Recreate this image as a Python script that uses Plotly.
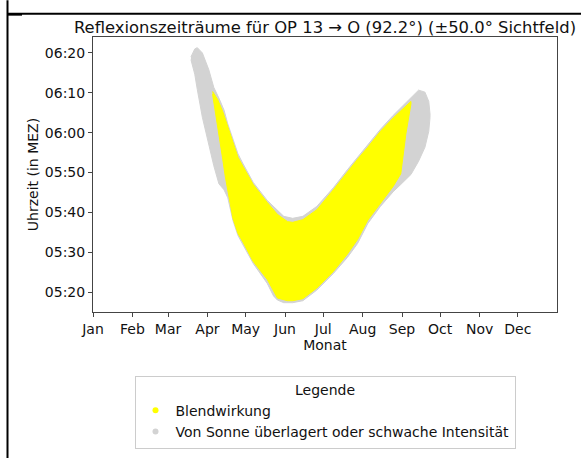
import plotly.graph_objects as go

# Reflexionszeiträume: je Datum früheste / späteste Uhrzeit (MEZ)
gray_dates = ['2023-03-19', '2023-03-22', '2023-03-24', '2023-03-28', '2023-04-02',
              '2023-04-06', '2023-04-10', '2023-04-14', '2023-04-17', '2023-04-21',
              '2023-04-25', '2023-04-29', '2023-05-07', '2023-05-18', '2023-05-23',
              '2023-05-26', '2023-05-31', '2023-06-07', '2023-06-15', '2023-06-26',
              '2023-07-09', '2023-07-20', '2023-07-28', '2023-08-05', '2023-08-15',
              '2023-08-25', '2023-08-31', '2023-09-08', '2023-09-14', '2023-09-19',
              '2023-09-22', '2023-09-23']
gray_hi = ['06:19:00', '06:21:00', '06:21:20', '06:20:00', '06:15:50', '06:11:20',
           '06:08:40', '06:05:40', '06:02:10', '05:58:20', '05:54:40', '05:52:10',
           '05:47:30', '05:43:00', '05:41:30', '05:40:30', '05:39:00', '05:38:30',
           '05:39:00', '05:41:30', '05:46:10', '05:50:40', '05:53:50', '05:57:10',
           '06:00:50', '06:04:20', '06:06:10', '06:08:50', '06:10:40', '06:10:10',
           '06:07:50', '06:04:40']
gray_lo = ['06:18:20', '06:14:40', '06:10:50', '06:03:50', '05:57:10', '05:51:40',
           '05:47:10', '05:45:40', '05:43:40', '05:38:00', '05:34:10', '05:32:00',
           '05:27:10', '05:22:10', '05:19:00', '05:18:00', '05:17:20', '05:17:20',
           '05:17:50', '05:20:30', '05:24:40', '05:28:40', '05:32:10', '05:37:10',
           '05:41:30', '05:45:10', '05:47:00', '05:49:30', '05:52:50', '05:56:20',
           '06:00:20', '06:03:50']

yellow_dates = ['2023-04-05', '2023-04-09', '2023-04-13', '2023-04-15', '2023-04-18',
                '2023-04-21', '2023-04-25', '2023-04-29', '2023-05-07', '2023-05-18',
                '2023-05-26', '2023-06-03', '2023-06-07', '2023-06-15', '2023-06-26',
                '2023-07-09', '2023-07-20', '2023-07-28', '2023-08-05', '2023-08-15',
                '2023-08-25', '2023-08-31', '2023-09-04', '2023-09-08']
yellow_hi = ['06:10:20', '06:08:20', '06:05:20', '06:03:20', '06:00:40', '05:57:40',
             '05:53:50', '05:51:30', '05:47:00', '05:42:30', '05:39:30', '05:37:40',
             '05:37:30', '05:38:10', '05:40:40', '05:45:40', '05:50:10', '05:53:20',
             '05:56:20', '06:00:20', '06:03:40', '06:05:20', '06:06:40', '06:07:50']
yellow_lo = ['06:09:40', '06:01:20', '05:53:20', '05:49:00', '05:43:30', '05:38:30',
             '05:34:40', '05:32:30', '05:27:40', '05:23:10', '05:18:30', '05:17:50',
             '05:17:50', '05:18:20', '05:21:00', '05:25:10', '05:29:30', '05:33:10',
             '05:38:00', '05:42:10', '05:46:30', '05:49:40', '05:59:40', '06:07:10']

month_ticks = ['2023-%02d-01' % m for m in range(1, 13)]
month_labels = ['Jan', 'Feb', 'Mar', 'Apr', 'May', 'Jun',
                'Jul', 'Aug', 'Sep', 'Oct', 'Nov', 'Dec']
time_ticks = ['05:20', '05:30', '05:40', '05:50', '06:00', '06:10', '06:20']

DAY = '1970-01-01 '
FONT = 'DejaVu Sans'
YELLOW = '#ffff00'
GRAY = '#d3d3d3'


def band(dates, hi, lo, color):
    xs = dates + dates[::-1]
    ys = [DAY + t for t in hi] + [DAY + t for t in lo[::-1]]
    return go.Scatter(x=xs, y=ys, mode='lines', fill='toself', fillcolor=color,
                      line=dict(color=color, width=1), showlegend=False,
                      hoverinfo='skip')


fig = go.Figure()
fig.add_trace(band(gray_dates, gray_hi, gray_lo, GRAY))
fig.add_trace(band(yellow_dates, yellow_hi, yellow_lo, YELLOW))
fig.add_trace(go.Scatter(x=[None], y=[None], mode='markers', name='Blendwirkung',
                         marker=dict(color=YELLOW, size=6)))
fig.add_trace(go.Scatter(x=[None], y=[None], mode='markers',
                         name='Von Sonne überlagert oder schwache Intensität',
                         marker=dict(color=GRAY, size=6)))

# plot area in pixels
L, R, T, B = 93, 24, 37, 147
W, H = 581 - L - R, 461 - T - B


def px(x):
    return (x - L) / W


def py(y):
    return (T + H - y) / H


axis_common = dict(showline=True, linecolor='#444', linewidth=1, mirror=True,
                   ticks='outside', ticklen=4, tickcolor='#444', showgrid=False,
                   zeroline=False, tickfont=dict(family=FONT, size=14, color='#111'))

fig.update_layout(
    width=581, height=461,
    margin=dict(l=L, r=R, t=T, b=B),
    paper_bgcolor='white', plot_bgcolor='white',
    font=dict(family=FONT, size=14, color='#111'),
    title=dict(text='Reflexionszeiträume für OP 13 → O (92.2°) (±50.0° Sichtfeld)',
               x=0.5, xref='paper', xanchor='center',
               y=1 - 27 / 461, yref='container', yanchor='middle',
               font=dict(family=FONT, size=16.4, color='#111')),
    xaxis=dict(axis_common, type='date',
               range=['2023-01-01', '2023-12-31 20:00'],
               tickvals=month_ticks, ticktext=month_labels,
               title=dict(text='Monat', standoff=4,
                          font=dict(family=FONT, size=14, color='#111'))),
    yaxis=dict(axis_common, type='date',
               range=[DAY + '05:15:00', DAY + '06:24:00'],
               tickvals=[DAY + t for t in time_ticks], ticktext=time_ticks,
               title=dict(text='Uhrzeit (in MEZ)', standoff=2,
                          font=dict(family=FONT, size=14, color='#111'))),
    legend=dict(title=dict(text='Legende', side='top center',
                           font=dict(family=FONT, size=14, color='#111')),
                x=0.5, xanchor='center', y=py(378), yanchor='top',
                bgcolor='white', bordercolor='#cccccc', borderwidth=1,
                font=dict(family=FONT, size=14, color='#111'),
                traceorder='normal'),
    shapes=[
        dict(type='line', xref='paper', yref='paper', x0=px(7.5), x1=px(7.5),
             y0=py(0), y1=py(461), line=dict(color='black', width=2)),
        dict(type='line', xref='paper', yref='paper', x0=px(7.5), x1=px(581),
             y0=py(13.5), y1=py(13.5), line=dict(color='black', width=2)),
        dict(type='line', xref='paper', yref='paper', x0=px(7.5), x1=px(22),
             y0=py(14.5), y1=py(14.5), line=dict(color='black', width=2)),
    ],
)

fig.write_html('out.html', config={'displayModeBar': False},
               post_script="document.body.style.margin='0';")
